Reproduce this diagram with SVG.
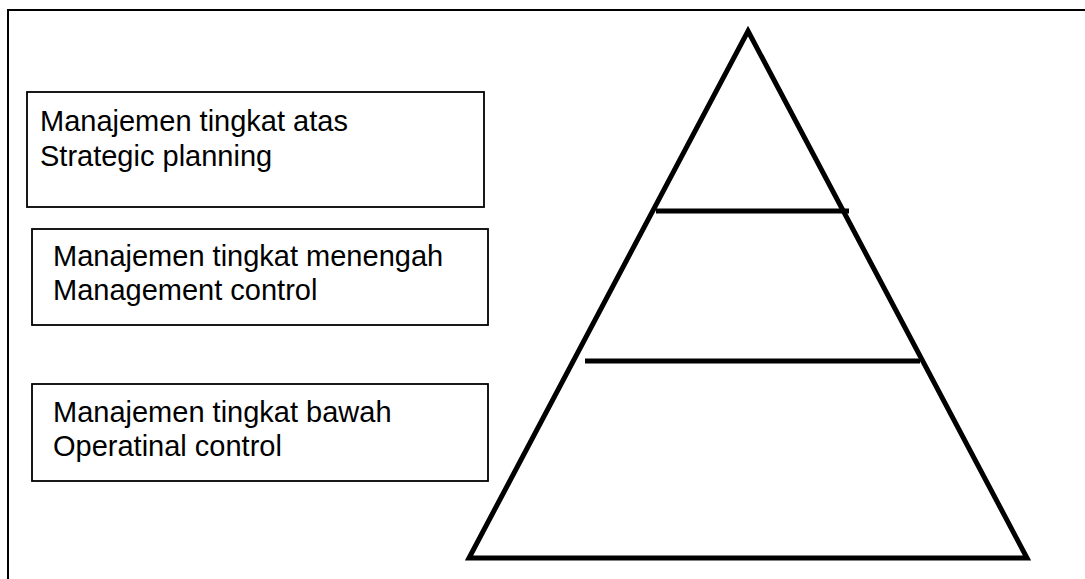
<svg xmlns="http://www.w3.org/2000/svg" width="1085" height="579" viewBox="0 0 1085 579">
<style>
.frame{fill:none;stroke:#000;stroke-width:2}
.box{fill:#fff;stroke:#000;stroke-width:1.8}
.lbl{font-family:"Liberation Sans",Arial,sans-serif;font-size:29px;fill:#000}
.pyr{fill:none;stroke:#000;stroke-width:5;stroke-linejoin:miter}
.div{stroke:#000;stroke-width:5;fill:none}
</style>
<rect width="1085" height="579" fill="#fff"/>
<rect class="frame" x="8" y="10" width="1090" height="600"/>
<g id="box-top">
<rect class="box" x="27" y="92" width="457" height="115"/>
<text class="lbl" x="40" y="131">Manajemen tingkat atas</text>
<text class="lbl" x="40" y="166">Strategic planning</text>
</g>
<g id="box-middle">
<rect class="box" x="32" y="229" width="456" height="96"/>
<text class="lbl" x="53" y="266">Manajemen tingkat menengah</text>
<text class="lbl" x="53" y="300">Management control</text>
</g>
<g id="box-bottom">
<rect class="box" x="32" y="384" width="456" height="97"/>
<text class="lbl" x="53" y="422">Manajemen tingkat bawah</text>
<text class="lbl" x="53" y="456">Operatinal control</text>
</g>
<g id="pyramid">
<polygon class="pyr" points="748,31 1027,558 469,558"/>
<line class="div" x1="656" y1="211" x2="849" y2="211"/>
<line class="div" x1="585" y1="361" x2="920" y2="361"/>
</g>
<g id="connectors"/>
</svg>
